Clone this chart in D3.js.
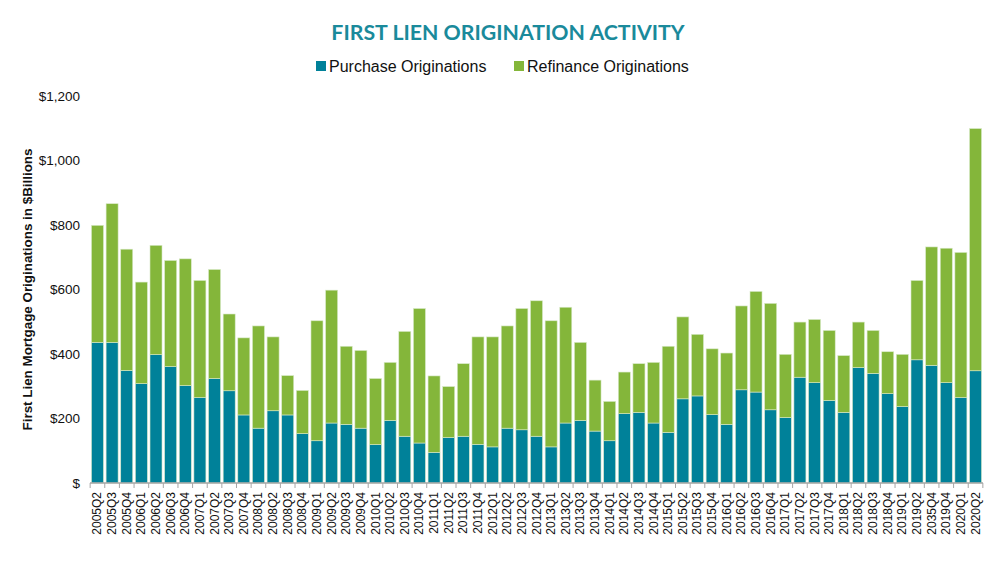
<!DOCTYPE html>
<html>
<head>
<meta charset="utf-8">
<script src="https://cdn.jsdelivr.net/npm/d3@7"></script>
<style>
  body { margin: 0; background: #fff; }
  svg { display: block; font-family: "Liberation Sans", Arial, sans-serif; }
</style>
</head>
<body>
<svg id="canvas"></svg>
<script>
const quarters = ['2005Q2','2005Q3','2005Q4','2006Q1','2006Q2','2006Q3','2006Q4','2007Q1','2007Q2','2007Q3','2007Q4',
  '2008Q1','2008Q2','2008Q3','2008Q4','2009Q1','2009Q2','2009Q3','2009Q4','2010Q1','2010Q2','2010Q3','2010Q4',
  '2011Q1','2011Q2','2011Q3','2011Q4','2012Q1','2012Q2','2012Q3','2012Q4','2013Q1','2013Q2','2013Q3','2013Q4',
  '2014Q1','2014Q2','2014Q3','2014Q4','2015Q1','2015Q2','2015Q3','2015Q4','2016Q1','2016Q2','2016Q3','2016Q4',
  '2017Q1','2017Q2','2017Q3','2017Q4','2018Q1','2018Q2','2018Q3','2018Q4','2019Q1','2019Q2','2035Q4','2019Q4',
  '2020Q1','2020Q2'];

const purchase = [436,436,349,308,398,361,302,265,324,286,211,
  170,224,211,153,131,186,182,170,119,194,145,124,
  95,141,145,120,112,170,165,145,112,186,194,161,
  131,215,219,186,157,261,270,212,182,289,282,227,
  203,328,311,256,219,358,340,277,237,382,365,311,
  265,348];

const refinance = [363,430,376,315,339,329,393,363,338,238,239,
  317,229,122,134,372,412,242,241,205,180,325,417,
  237,158,225,333,341,317,376,420,391,359,242,158,
  122,129,151,188,267,254,191,204,221,260,312,330,
  196,171,196,217,176,141,133,130,162,246,367,417,
  450,751];

const yTicks = [0, 200, 400, 600, 800, 1000, 1200];

const seriesNames = ['Purchase Originations', 'Refinance Originations'];
const colors = ['#008199', '#84b63a'];

const width = 999;
const height = 568;
const margin = { top: 96, right: 16, bottom: 85, left: 90 };

const svg = d3.select('#canvas').attr('width', width).attr('height', height);

const table = quarters.map((q, i) => ({ q, purchase: purchase[i], refinance: refinance[i] }));
const stacked = d3.stack().keys(['purchase', 'refinance'])(table);

const x = d3.scaleBand()
  .domain(quarters)
  .range([margin.left, width - margin.right])
  .paddingInner(0.18)
  .paddingOuter(0.1);

const y = d3.scaleLinear()
  .domain([0, 1200])
  .range([height - margin.bottom, margin.top]);

// bars
svg.append('g')
  .selectAll('g')
  .data(stacked)
  .join('g')
  .attr('fill', (d, i) => colors[i])
  .selectAll('rect')
  .data(d => d)
  .join('rect')
  .attr('x', d => x(d.data.q))
  .attr('y', d => y(d[1]))
  .attr('width', x.bandwidth())
  .attr('height', d => y(d[0]) - y(d[1]))
  .attr('stroke', '#d8e9c8')
  .attr('stroke-width', 0.6);

// x axis line + ticks between categories
const base = y(0);
const xAxis = svg.append('g');
xAxis.append('line')
  .attr('x1', margin.left).attr('x2', width - margin.right)
  .attr('y1', base).attr('y2', base)
  .attr('stroke', '#a6a6a6').attr('stroke-width', 1.5);

const boundaries = quarters.map(q => x(q) - x.step() * x.paddingInner() / 2)
  .concat([x(quarters[quarters.length - 1]) + x.bandwidth() + x.step() * x.paddingInner() / 2]);
xAxis.selectAll('.tick')
  .data(boundaries)
  .join('line')
  .attr('x1', d => d).attr('x2', d => d)
  .attr('y1', base).attr('y2', base + 5)
  .attr('stroke', '#a6a6a6').attr('stroke-width', 1);

xAxis.selectAll('.lbl')
  .data(quarters)
  .join('text')
  .attr('transform', q => `translate(${x(q) + x.bandwidth() / 2 + 4},${base + 9}) rotate(-90)`)
  .attr('text-anchor', 'end')
  .attr('font-size', 12)
  .attr('fill', '#111')
  .text(q => q);

// y axis labels
svg.append('g')
  .selectAll('text')
  .data(yTicks)
  .join('text')
  .attr('x', 80)
  .attr('y', d => y(d) + 4.5)
  .attr('text-anchor', 'end')
  .attr('font-size', 13.5)
  .attr('fill', '#111')
  .text(d => d === 0 ? '$' : '$' + d3.format(',')(d));

// y axis title
svg.append('text')
  .attr('transform', `translate(32,${y(600)}) rotate(-90)`)
  .attr('text-anchor', 'middle')
  .attr('font-size', 13.4)
  .attr('font-weight', 'bold')
  .attr('fill', '#111')
  .text('First Lien Mortgage Originations in $Billions');

// title
svg.append('text')
  .attr('x', 508)
  .attr('y', 40)
  .attr('text-anchor', 'middle')
  .attr('font-family', 'Lato, "Open Sans", sans-serif')
  .attr('font-size', 21.3)
  .attr('font-weight', 'bold')
  .attr('fill', '#1a8a9b')
  .text('FIRST LIEN ORIGINATION ACTIVITY');

// legend
const legendX = [316, 514];
const legend = svg.append('g')
  .selectAll('g')
  .data(seriesNames)
  .join('g')
  .attr('transform', (d, i) => `translate(${legendX[i]},61)`);
legend.append('rect')
  .attr('width', 10).attr('height', 10)
  .attr('fill', (d, i) => colors[i]);
legend.append('text')
  .attr('x', 13).attr('y', 11)
  .attr('font-size', 16)
  .attr('fill', '#111')
  .text(d => d);
</script>
</body>
</html>
